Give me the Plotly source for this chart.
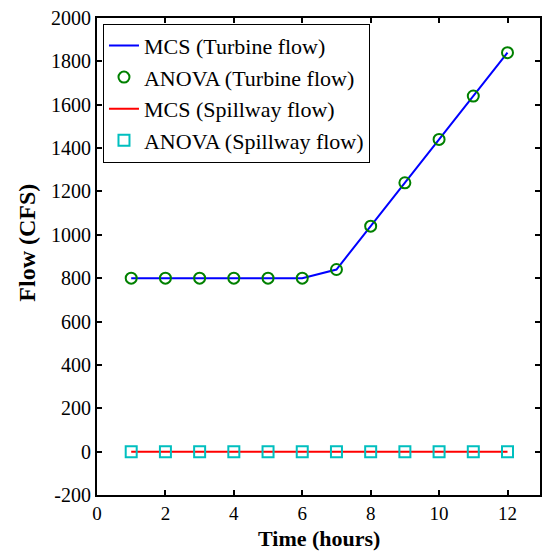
import plotly.graph_objects as go

hours = [1, 2, 3, 4, 5, 6, 7, 8, 9, 10, 11, 12]
turbine_mcs = [800, 800, 800, 800, 800, 800, 840, 1040, 1240, 1440, 1640, 1840]
turbine_anova = [800, 800, 800, 800, 800, 800, 840, 1040, 1240, 1440, 1640, 1840]
spill_mcs = [0, 0, 0, 0, 0, 0, 0, 0, 0, 0, 0, 0]
spill_anova = [0, 0, 0, 0, 0, 0, 0, 0, 0, 0, 0, 0]
x_ticks = [0, 2, 4, 6, 8, 10, 12]
y_ticks = [-200, 0, 200, 400, 600, 800, 1000, 1200, 1400, 1600, 1800, 2000]
y_ticklabels = ["-200", "0", "200", "400", "600", "800", "1000", "1200", "1400", "1600", "1800", "2000"]

FONT = "Liberation Serif"

fig = go.Figure()
fig.add_trace(go.Scatter(x=hours, y=turbine_mcs, mode="lines", name="MCS (Turbine flow)",
                         line=dict(color="#0000ff", width=2)))
fig.add_trace(go.Scatter(x=hours, y=turbine_anova, mode="markers", name="ANOVA (Turbine flow)",
                         marker=dict(symbol="circle-open", size=11, color="#008000",
                                     line=dict(width=2, color="#1a8a1a"))))
fig.add_trace(go.Scatter(x=hours, y=spill_mcs, mode="lines", name="MCS (Spillway flow)",
                         line=dict(color="#ff0000", width=2)))
fig.add_trace(go.Scatter(x=hours, y=spill_anova, mode="markers", name="ANOVA (Spillway flow)",
                         marker=dict(symbol="square-open", size=11, color="#00bfbf",
                                     line=dict(width=2, color="#20c0c0"))))

axis_common = dict(showline=True, linecolor="black", linewidth=2, mirror="allticks",
                   ticks="inside", ticklen=5, tickwidth=1.5, tickcolor="black",
                   showgrid=False, zeroline=False)

fig.update_layout(
    width=542, height=552,
    margin=dict(l=97, r=0, t=18, b=57),
    paper_bgcolor="white", plot_bgcolor="white",
    showlegend=True,
    legend=dict(x=0.0135, y=0.988, xanchor="left", yanchor="top",
                bgcolor="white", bordercolor="black", borderwidth=1,
                font=dict(family=FONT, size=22, color="black"),
                tracegroupgap=0, itemwidth=30),
    xaxis=dict(range=[0, 12.95], tickvals=x_ticks,
               tickfont=dict(family=FONT, size=19, color="black"), **axis_common),
    yaxis=dict(range=[-200, 2000], tickvals=y_ticks, ticktext=y_ticklabels,
               tickfont=dict(family=FONT, size=20, color="black"), **axis_common),
    annotations=[
        dict(text="<b>Time (hours)</b>", xref="paper", yref="paper", x=0.5, y=-0.092,
             xanchor="center", yanchor="middle", showarrow=False,
             font=dict(family=FONT, size=22, color="black")),
        dict(text="<b>Flow (CFS)</b>", xref="paper", yref="paper", x=-0.157, y=0.53,
             xanchor="center", yanchor="middle", showarrow=False, textangle=-90,
             font=dict(family=FONT, size=24, color="black")),
    ],
)

fig.write_html("out.html")
